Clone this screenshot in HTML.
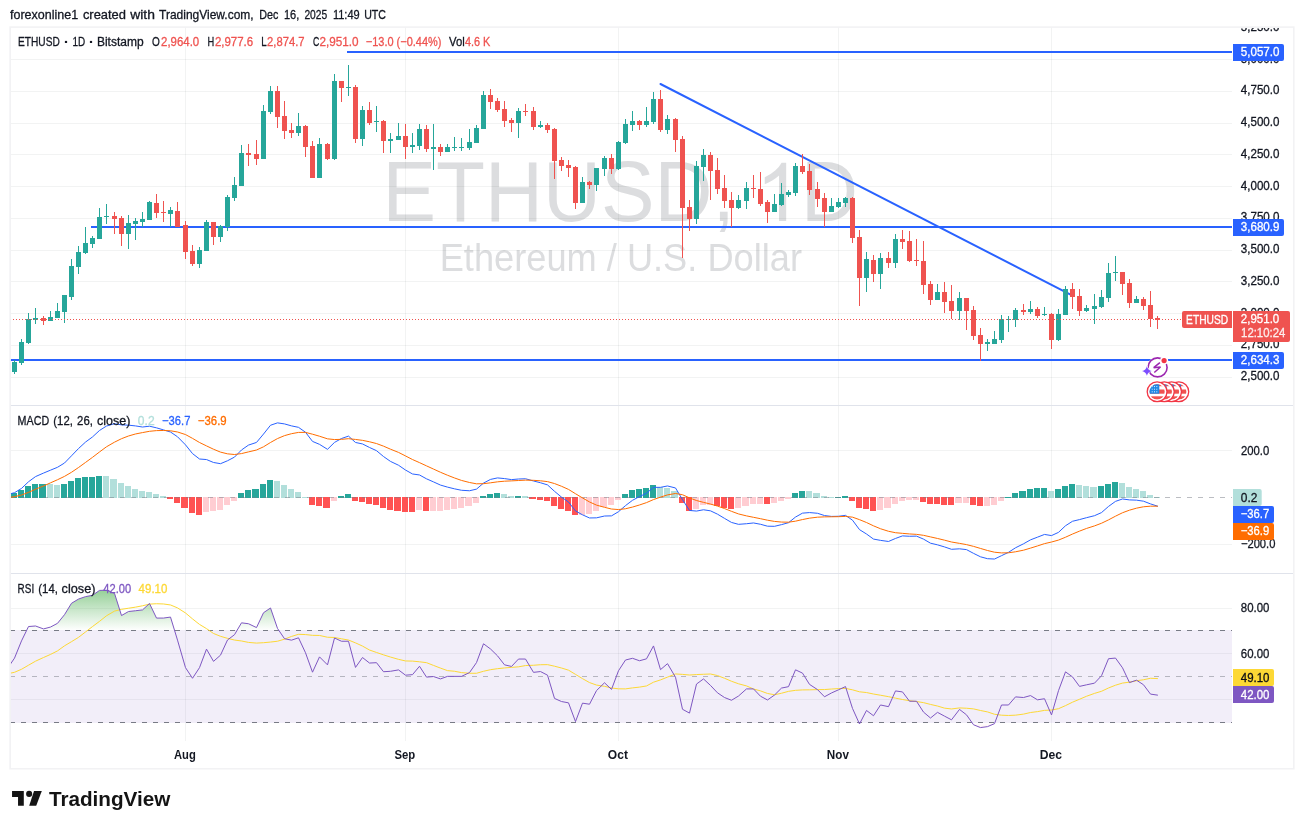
<!DOCTYPE html>
<html><head><meta charset="utf-8"><title>ETHUSD chart</title><style>html,body{margin:0;padding:0;background:#fff}body{width:1304px;height:829px;overflow:hidden}</style></head><body>
<svg width="1304" height="829" viewBox="0 0 1304 829" font-family='"Liberation Sans", sans-serif' style="display:block;will-change:transform">
<defs>
<linearGradient id="gob" gradientUnits="userSpaceOnUse" x1="0" y1="561.5" x2="0" y2="630.5"><stop offset="0" stop-color="#4caf50" stop-opacity="1"/><stop offset="1" stop-color="#4caf50" stop-opacity="0"/></linearGradient>
<linearGradient id="gos" gradientUnits="userSpaceOnUse" x1="0" y1="722.5" x2="0" y2="791.5"><stop offset="0" stop-color="#ff5252" stop-opacity="0"/><stop offset="1" stop-color="#ff5252" stop-opacity="1"/></linearGradient>
<clipPath id="cOB"><rect x="10" y="573" width="1222" height="57"/></clipPath>
<clipPath id="cOS"><rect x="10" y="723" width="1222" height="17"/></clipPath>
<clipPath id="cMain"><rect x="10" y="27" width="1222" height="378"/></clipPath>
<clipPath id="cAx1"><rect x="1232" y="28" width="62" height="377"/></clipPath>
</defs>
<rect width="1304" height="829" fill="#fff"/>
<text x="10.0" y="19" font-size="12.7" fill="#131722" textLength="68.2" lengthAdjust="spacingAndGlyphs" stroke="#131722" stroke-width="0.3">forexonline1</text>
<text x="82.9" y="19" font-size="12.7" fill="#131722" textLength="43.1" lengthAdjust="spacingAndGlyphs" stroke="#131722" stroke-width="0.3">created</text>
<text x="130.2" y="19" font-size="12.7" fill="#131722" textLength="24.7" lengthAdjust="spacingAndGlyphs" stroke="#131722" stroke-width="0.3">with</text>
<text x="159.1" y="19" font-size="12.7" fill="#131722" textLength="94.5" lengthAdjust="spacingAndGlyphs" stroke="#131722" stroke-width="0.3">TradingView.com,</text>
<text x="259.2" y="19" font-size="12.7" fill="#131722" textLength="19.1" lengthAdjust="spacingAndGlyphs" stroke="#131722" stroke-width="0.3">Dec</text>
<text x="283.9" y="19" font-size="12.7" fill="#131722" textLength="15.3" lengthAdjust="spacingAndGlyphs" stroke="#131722" stroke-width="0.3">16,</text>
<text x="304.4" y="19" font-size="12.7" fill="#131722" textLength="22.8" lengthAdjust="spacingAndGlyphs" stroke="#131722" stroke-width="0.3">2025</text>
<text x="332.9" y="19" font-size="12.7" fill="#131722" textLength="26.8" lengthAdjust="spacingAndGlyphs" stroke="#131722" stroke-width="0.3">11:49</text>
<text x="364.2" y="19" font-size="12.7" fill="#131722" textLength="21.8" lengthAdjust="spacingAndGlyphs" stroke="#131722" stroke-width="0.3">UTC</text>
<text x="382.5" y="221.25" font-size="84.6" fill="#dcdddf" textLength="352.25" lengthAdjust="spacingAndGlyphs">ETHUSD,</text>
<text x="801.0" y="221.25" font-size="84.6" fill="#dcdddf" textLength="56.96" lengthAdjust="spacingAndGlyphs">D</text>
<path transform="translate(755.9,221.1) scale(0.0397,-0.0397)" d="M763,0 L583,0 L583,1147 Q518,1085 412.5,1023 Q307,961 223,930 L223,1104 Q374,1175 487,1276 Q600,1377 647,1472 L763,1472 Z" fill="#dcdddf"/>
<text x="439.7" y="271" font-size="37.9" fill="#dcdddf" textLength="362.3" lengthAdjust="spacingAndGlyphs">Ethereum / U.S. Dollar</text>
<g shape-rendering="crispEdges">
<rect x="185" y="27" width="1" height="714" fill="#2a2e39" fill-opacity="0.06"/>
<rect x="405" y="27" width="1" height="714" fill="#2a2e39" fill-opacity="0.06"/>
<rect x="618" y="27" width="1" height="714" fill="#2a2e39" fill-opacity="0.06"/>
<rect x="838" y="27" width="1" height="714" fill="#2a2e39" fill-opacity="0.06"/>
<rect x="1051" y="27" width="1" height="714" fill="#2a2e39" fill-opacity="0.06"/>
<rect x="10" y="377" width="1222" height="1" fill="#2a2e39" fill-opacity="0.06"/>
<rect x="10" y="345" width="1222" height="1" fill="#2a2e39" fill-opacity="0.06"/>
<rect x="10" y="313" width="1222" height="1" fill="#2a2e39" fill-opacity="0.06"/>
<rect x="10" y="281" width="1222" height="1" fill="#2a2e39" fill-opacity="0.06"/>
<rect x="10" y="250" width="1222" height="1" fill="#2a2e39" fill-opacity="0.06"/>
<rect x="10" y="218" width="1222" height="1" fill="#2a2e39" fill-opacity="0.06"/>
<rect x="10" y="186" width="1222" height="1" fill="#2a2e39" fill-opacity="0.06"/>
<rect x="10" y="154" width="1222" height="1" fill="#2a2e39" fill-opacity="0.06"/>
<rect x="10" y="123" width="1222" height="1" fill="#2a2e39" fill-opacity="0.06"/>
<rect x="10" y="91" width="1222" height="1" fill="#2a2e39" fill-opacity="0.06"/>
<rect x="10" y="59" width="1222" height="1" fill="#2a2e39" fill-opacity="0.06"/>
<rect x="10" y="450" width="1222" height="1" fill="#2a2e39" fill-opacity="0.06"/>
<rect x="10" y="544" width="1222" height="1" fill="#2a2e39" fill-opacity="0.06"/>
<rect x="10" y="608" width="1222" height="1" fill="#2a2e39" fill-opacity="0.06"/>
<rect x="10" y="653" width="1222" height="1" fill="#2a2e39" fill-opacity="0.06"/>
<rect x="10" y="699" width="1222" height="1" fill="#2a2e39" fill-opacity="0.06"/>
</g>
<rect x="10" y="630" width="1222" height="93" fill="#7e57c2" fill-opacity="0.1"/>
<g clip-path="url(#cMain)">
<rect x="347" y="51" width="885" height="2" fill="#2962ff"/>
<rect x="91" y="226" width="1141" height="2" fill="#2962ff"/>
<rect x="10" y="359" width="1222" height="2" fill="#2962ff"/>
<line x1="660.5" y1="84" x2="1072.5" y2="295.6" stroke="#2962ff" stroke-width="2" stroke-linecap="round"/>
</g>
<g shape-rendering="crispEdges">
<rect x="14" y="360" width="1" height="14" fill="#26a69a"/>
<rect x="12" y="362" width="5" height="10" fill="#26a69a"/>
<rect x="21" y="339" width="1" height="26" fill="#26a69a"/>
<rect x="19" y="342" width="5" height="21" fill="#26a69a"/>
<rect x="28" y="313" width="1" height="31" fill="#26a69a"/>
<rect x="26" y="319" width="5" height="24" fill="#26a69a"/>
<rect x="35" y="308" width="1" height="16" fill="#26a69a"/>
<rect x="33" y="318" width="5" height="2" fill="#26a69a"/>
<rect x="43" y="316" width="1" height="9" fill="#ef5350"/>
<rect x="41" y="318" width="5" height="3" fill="#ef5350"/>
<rect x="50" y="311" width="1" height="10" fill="#26a69a"/>
<rect x="48" y="317" width="5" height="4" fill="#26a69a"/>
<rect x="57" y="303" width="1" height="15" fill="#26a69a"/>
<rect x="55" y="311" width="5" height="7" fill="#26a69a"/>
<rect x="64" y="295" width="1" height="28" fill="#26a69a"/>
<rect x="62" y="295" width="5" height="17" fill="#26a69a"/>
<rect x="71" y="259" width="1" height="41" fill="#26a69a"/>
<rect x="69" y="266" width="5" height="31" fill="#26a69a"/>
<rect x="78" y="246" width="1" height="28" fill="#26a69a"/>
<rect x="76" y="252" width="5" height="15" fill="#26a69a"/>
<rect x="85" y="227" width="1" height="27" fill="#26a69a"/>
<rect x="83" y="243" width="5" height="10" fill="#26a69a"/>
<rect x="92" y="236" width="1" height="12" fill="#26a69a"/>
<rect x="90" y="238" width="5" height="6" fill="#26a69a"/>
<rect x="99" y="208" width="1" height="31" fill="#26a69a"/>
<rect x="97" y="217" width="5" height="22" fill="#26a69a"/>
<rect x="106" y="204" width="1" height="20" fill="#26a69a"/>
<rect x="104" y="216" width="5" height="1" fill="#26a69a"/>
<rect x="114" y="212" width="1" height="22" fill="#ef5350"/>
<rect x="112" y="216" width="5" height="3" fill="#ef5350"/>
<rect x="121" y="216" width="1" height="30" fill="#ef5350"/>
<rect x="119" y="218" width="5" height="16" fill="#ef5350"/>
<rect x="128" y="215" width="1" height="34" fill="#26a69a"/>
<rect x="126" y="223" width="5" height="11" fill="#26a69a"/>
<rect x="135" y="218" width="1" height="22" fill="#26a69a"/>
<rect x="133" y="221" width="5" height="3" fill="#26a69a"/>
<rect x="142" y="212" width="1" height="15" fill="#26a69a"/>
<rect x="140" y="219" width="5" height="3" fill="#26a69a"/>
<rect x="149" y="201" width="1" height="19" fill="#26a69a"/>
<rect x="147" y="202" width="5" height="18" fill="#26a69a"/>
<rect x="156" y="194" width="1" height="24" fill="#ef5350"/>
<rect x="154" y="203" width="5" height="10" fill="#ef5350"/>
<rect x="163" y="201" width="1" height="21" fill="#ef5350"/>
<rect x="161" y="212" width="5" height="1" fill="#ef5350"/>
<rect x="170" y="207" width="1" height="20" fill="#26a69a"/>
<rect x="168" y="210" width="5" height="4" fill="#26a69a"/>
<rect x="177" y="202" width="1" height="25" fill="#ef5350"/>
<rect x="175" y="211" width="5" height="16" fill="#ef5350"/>
<rect x="185" y="221" width="1" height="38" fill="#ef5350"/>
<rect x="183" y="225" width="5" height="27" fill="#ef5350"/>
<rect x="192" y="245" width="1" height="21" fill="#ef5350"/>
<rect x="190" y="251" width="5" height="13" fill="#ef5350"/>
<rect x="199" y="247" width="1" height="21" fill="#26a69a"/>
<rect x="197" y="250" width="5" height="14" fill="#26a69a"/>
<rect x="206" y="220" width="1" height="31" fill="#26a69a"/>
<rect x="204" y="222" width="5" height="29" fill="#26a69a"/>
<rect x="213" y="222" width="1" height="23" fill="#ef5350"/>
<rect x="211" y="222" width="5" height="15" fill="#ef5350"/>
<rect x="220" y="225" width="1" height="17" fill="#26a69a"/>
<rect x="218" y="226" width="5" height="11" fill="#26a69a"/>
<rect x="227" y="195" width="1" height="36" fill="#26a69a"/>
<rect x="225" y="197" width="5" height="30" fill="#26a69a"/>
<rect x="234" y="177" width="1" height="24" fill="#26a69a"/>
<rect x="232" y="185" width="5" height="13" fill="#26a69a"/>
<rect x="241" y="145" width="1" height="41" fill="#26a69a"/>
<rect x="239" y="153" width="5" height="33" fill="#26a69a"/>
<rect x="248" y="144" width="1" height="22" fill="#ef5350"/>
<rect x="246" y="153" width="5" height="2" fill="#ef5350"/>
<rect x="256" y="140" width="1" height="25" fill="#ef5350"/>
<rect x="254" y="154" width="5" height="5" fill="#ef5350"/>
<rect x="263" y="105" width="1" height="54" fill="#26a69a"/>
<rect x="261" y="111" width="5" height="48" fill="#26a69a"/>
<rect x="270" y="86" width="1" height="28" fill="#26a69a"/>
<rect x="268" y="91" width="5" height="21" fill="#26a69a"/>
<rect x="277" y="86" width="1" height="42" fill="#ef5350"/>
<rect x="275" y="91" width="5" height="26" fill="#ef5350"/>
<rect x="284" y="101" width="1" height="38" fill="#ef5350"/>
<rect x="282" y="116" width="5" height="15" fill="#ef5350"/>
<rect x="291" y="123" width="1" height="15" fill="#ef5350"/>
<rect x="289" y="130" width="5" height="3" fill="#ef5350"/>
<rect x="298" y="113" width="1" height="23" fill="#26a69a"/>
<rect x="296" y="126" width="5" height="7" fill="#26a69a"/>
<rect x="305" y="125" width="1" height="32" fill="#ef5350"/>
<rect x="303" y="126" width="5" height="21" fill="#ef5350"/>
<rect x="312" y="141" width="1" height="37" fill="#ef5350"/>
<rect x="310" y="146" width="5" height="32" fill="#ef5350"/>
<rect x="319" y="138" width="1" height="40" fill="#26a69a"/>
<rect x="317" y="144" width="5" height="34" fill="#26a69a"/>
<rect x="327" y="143" width="1" height="17" fill="#ef5350"/>
<rect x="325" y="144" width="5" height="15" fill="#ef5350"/>
<rect x="334" y="74" width="1" height="86" fill="#26a69a"/>
<rect x="332" y="81" width="5" height="78" fill="#26a69a"/>
<rect x="341" y="81" width="1" height="21" fill="#ef5350"/>
<rect x="339" y="81" width="5" height="7" fill="#ef5350"/>
<rect x="348" y="65" width="1" height="31" fill="#26a69a"/>
<rect x="346" y="87" width="5" height="1" fill="#26a69a"/>
<rect x="355" y="85" width="1" height="58" fill="#ef5350"/>
<rect x="353" y="87" width="5" height="52" fill="#ef5350"/>
<rect x="362" y="106" width="1" height="40" fill="#26a69a"/>
<rect x="360" y="110" width="5" height="29" fill="#26a69a"/>
<rect x="369" y="102" width="1" height="23" fill="#ef5350"/>
<rect x="367" y="110" width="5" height="13" fill="#ef5350"/>
<rect x="376" y="106" width="1" height="26" fill="#26a69a"/>
<rect x="374" y="121" width="5" height="1" fill="#26a69a"/>
<rect x="383" y="120" width="1" height="33" fill="#ef5350"/>
<rect x="381" y="121" width="5" height="20" fill="#ef5350"/>
<rect x="390" y="133" width="1" height="20" fill="#26a69a"/>
<rect x="388" y="139" width="5" height="2" fill="#26a69a"/>
<rect x="398" y="123" width="1" height="17" fill="#26a69a"/>
<rect x="396" y="136" width="5" height="4" fill="#26a69a"/>
<rect x="405" y="124" width="1" height="35" fill="#ef5350"/>
<rect x="403" y="136" width="5" height="11" fill="#ef5350"/>
<rect x="412" y="133" width="1" height="20" fill="#26a69a"/>
<rect x="410" y="145" width="5" height="2" fill="#26a69a"/>
<rect x="419" y="124" width="1" height="26" fill="#26a69a"/>
<rect x="417" y="129" width="5" height="17" fill="#26a69a"/>
<rect x="426" y="125" width="1" height="27" fill="#ef5350"/>
<rect x="424" y="129" width="5" height="20" fill="#ef5350"/>
<rect x="433" y="124" width="1" height="46" fill="#26a69a"/>
<rect x="431" y="147" width="5" height="2" fill="#26a69a"/>
<rect x="440" y="144" width="1" height="12" fill="#ef5350"/>
<rect x="438" y="147" width="5" height="5" fill="#ef5350"/>
<rect x="447" y="144" width="1" height="8" fill="#26a69a"/>
<rect x="445" y="147" width="5" height="5" fill="#26a69a"/>
<rect x="454" y="137" width="1" height="14" fill="#26a69a"/>
<rect x="452" y="147" width="5" height="1" fill="#26a69a"/>
<rect x="461" y="138" width="1" height="13" fill="#26a69a"/>
<rect x="459" y="147" width="5" height="1" fill="#26a69a"/>
<rect x="469" y="129" width="1" height="21" fill="#26a69a"/>
<rect x="467" y="142" width="5" height="6" fill="#26a69a"/>
<rect x="476" y="125" width="1" height="18" fill="#26a69a"/>
<rect x="474" y="128" width="5" height="15" fill="#26a69a"/>
<rect x="483" y="91" width="1" height="38" fill="#26a69a"/>
<rect x="481" y="95" width="5" height="34" fill="#26a69a"/>
<rect x="490" y="89" width="1" height="20" fill="#ef5350"/>
<rect x="488" y="95" width="5" height="7" fill="#ef5350"/>
<rect x="497" y="98" width="1" height="14" fill="#ef5350"/>
<rect x="495" y="101" width="5" height="9" fill="#ef5350"/>
<rect x="504" y="101" width="1" height="26" fill="#ef5350"/>
<rect x="502" y="109" width="5" height="12" fill="#ef5350"/>
<rect x="511" y="118" width="1" height="14" fill="#ef5350"/>
<rect x="509" y="120" width="5" height="3" fill="#ef5350"/>
<rect x="518" y="108" width="1" height="30" fill="#26a69a"/>
<rect x="516" y="111" width="5" height="12" fill="#26a69a"/>
<rect x="525" y="104" width="1" height="12" fill="#ef5350"/>
<rect x="523" y="111" width="5" height="1" fill="#ef5350"/>
<rect x="533" y="107" width="1" height="23" fill="#ef5350"/>
<rect x="531" y="111" width="5" height="16" fill="#ef5350"/>
<rect x="540" y="121" width="1" height="7" fill="#26a69a"/>
<rect x="538" y="125" width="5" height="2" fill="#26a69a"/>
<rect x="547" y="123" width="1" height="10" fill="#ef5350"/>
<rect x="545" y="125" width="5" height="5" fill="#ef5350"/>
<rect x="554" y="128" width="1" height="51" fill="#ef5350"/>
<rect x="552" y="129" width="5" height="32" fill="#ef5350"/>
<rect x="561" y="157" width="1" height="14" fill="#ef5350"/>
<rect x="559" y="160" width="5" height="6" fill="#ef5350"/>
<rect x="568" y="160" width="1" height="17" fill="#ef5350"/>
<rect x="566" y="165" width="5" height="3" fill="#ef5350"/>
<rect x="575" y="166" width="1" height="43" fill="#ef5350"/>
<rect x="573" y="167" width="5" height="36" fill="#ef5350"/>
<rect x="582" y="177" width="1" height="26" fill="#26a69a"/>
<rect x="580" y="182" width="5" height="21" fill="#26a69a"/>
<rect x="589" y="181" width="1" height="8" fill="#ef5350"/>
<rect x="587" y="182" width="5" height="3" fill="#ef5350"/>
<rect x="596" y="168" width="1" height="23" fill="#26a69a"/>
<rect x="594" y="168" width="5" height="17" fill="#26a69a"/>
<rect x="604" y="156" width="1" height="20" fill="#26a69a"/>
<rect x="602" y="158" width="5" height="11" fill="#26a69a"/>
<rect x="611" y="154" width="1" height="20" fill="#ef5350"/>
<rect x="609" y="158" width="5" height="11" fill="#ef5350"/>
<rect x="618" y="141" width="1" height="29" fill="#26a69a"/>
<rect x="616" y="142" width="5" height="27" fill="#26a69a"/>
<rect x="625" y="119" width="1" height="25" fill="#26a69a"/>
<rect x="623" y="124" width="5" height="19" fill="#26a69a"/>
<rect x="632" y="111" width="1" height="20" fill="#26a69a"/>
<rect x="630" y="121" width="5" height="4" fill="#26a69a"/>
<rect x="639" y="120" width="1" height="10" fill="#ef5350"/>
<rect x="637" y="121" width="5" height="4" fill="#ef5350"/>
<rect x="646" y="107" width="1" height="20" fill="#26a69a"/>
<rect x="644" y="121" width="5" height="4" fill="#26a69a"/>
<rect x="653" y="92" width="1" height="32" fill="#26a69a"/>
<rect x="651" y="99" width="5" height="23" fill="#26a69a"/>
<rect x="660" y="90" width="1" height="42" fill="#ef5350"/>
<rect x="658" y="99" width="5" height="31" fill="#ef5350"/>
<rect x="667" y="115" width="1" height="19" fill="#26a69a"/>
<rect x="665" y="119" width="5" height="11" fill="#26a69a"/>
<rect x="675" y="118" width="1" height="34" fill="#ef5350"/>
<rect x="673" y="119" width="5" height="21" fill="#ef5350"/>
<rect x="682" y="136" width="1" height="122" fill="#ef5350"/>
<rect x="680" y="139" width="5" height="69" fill="#ef5350"/>
<rect x="689" y="200" width="1" height="31" fill="#ef5350"/>
<rect x="687" y="207" width="5" height="12" fill="#ef5350"/>
<rect x="696" y="161" width="1" height="63" fill="#26a69a"/>
<rect x="694" y="166" width="5" height="53" fill="#26a69a"/>
<rect x="703" y="149" width="1" height="32" fill="#26a69a"/>
<rect x="701" y="155" width="5" height="12" fill="#26a69a"/>
<rect x="710" y="152" width="1" height="48" fill="#ef5350"/>
<rect x="708" y="155" width="5" height="16" fill="#ef5350"/>
<rect x="717" y="158" width="1" height="36" fill="#ef5350"/>
<rect x="715" y="170" width="5" height="19" fill="#ef5350"/>
<rect x="724" y="175" width="1" height="33" fill="#ef5350"/>
<rect x="722" y="188" width="5" height="13" fill="#ef5350"/>
<rect x="731" y="192" width="1" height="35" fill="#ef5350"/>
<rect x="729" y="200" width="5" height="8" fill="#ef5350"/>
<rect x="738" y="195" width="1" height="14" fill="#26a69a"/>
<rect x="736" y="200" width="5" height="8" fill="#26a69a"/>
<rect x="746" y="182" width="1" height="27" fill="#26a69a"/>
<rect x="744" y="188" width="5" height="13" fill="#26a69a"/>
<rect x="753" y="175" width="1" height="23" fill="#ef5350"/>
<rect x="751" y="188" width="5" height="1" fill="#ef5350"/>
<rect x="760" y="172" width="1" height="34" fill="#ef5350"/>
<rect x="758" y="189" width="5" height="15" fill="#ef5350"/>
<rect x="767" y="200" width="1" height="23" fill="#ef5350"/>
<rect x="765" y="202" width="5" height="10" fill="#ef5350"/>
<rect x="774" y="194" width="1" height="18" fill="#26a69a"/>
<rect x="772" y="204" width="5" height="8" fill="#26a69a"/>
<rect x="781" y="183" width="1" height="23" fill="#26a69a"/>
<rect x="779" y="194" width="5" height="11" fill="#26a69a"/>
<rect x="788" y="190" width="1" height="7" fill="#26a69a"/>
<rect x="786" y="192" width="5" height="3" fill="#26a69a"/>
<rect x="795" y="163" width="1" height="33" fill="#26a69a"/>
<rect x="793" y="166" width="5" height="27" fill="#26a69a"/>
<rect x="802" y="154" width="1" height="20" fill="#ef5350"/>
<rect x="800" y="166" width="5" height="6" fill="#ef5350"/>
<rect x="809" y="164" width="1" height="31" fill="#ef5350"/>
<rect x="807" y="171" width="5" height="19" fill="#ef5350"/>
<rect x="817" y="182" width="1" height="25" fill="#ef5350"/>
<rect x="815" y="189" width="5" height="10" fill="#ef5350"/>
<rect x="824" y="193" width="1" height="34" fill="#ef5350"/>
<rect x="822" y="198" width="5" height="14" fill="#ef5350"/>
<rect x="831" y="198" width="1" height="14" fill="#26a69a"/>
<rect x="829" y="206" width="5" height="6" fill="#26a69a"/>
<rect x="838" y="198" width="1" height="10" fill="#26a69a"/>
<rect x="836" y="202" width="5" height="5" fill="#26a69a"/>
<rect x="845" y="197" width="1" height="10" fill="#26a69a"/>
<rect x="843" y="198" width="5" height="5" fill="#26a69a"/>
<rect x="852" y="197" width="1" height="46" fill="#ef5350"/>
<rect x="850" y="198" width="5" height="40" fill="#ef5350"/>
<rect x="859" y="230" width="1" height="76" fill="#ef5350"/>
<rect x="857" y="237" width="5" height="41" fill="#ef5350"/>
<rect x="866" y="252" width="1" height="40" fill="#26a69a"/>
<rect x="864" y="259" width="5" height="19" fill="#26a69a"/>
<rect x="873" y="255" width="1" height="27" fill="#ef5350"/>
<rect x="871" y="260" width="5" height="14" fill="#ef5350"/>
<rect x="880" y="253" width="1" height="36" fill="#26a69a"/>
<rect x="878" y="258" width="5" height="16" fill="#26a69a"/>
<rect x="888" y="252" width="1" height="16" fill="#ef5350"/>
<rect x="886" y="258" width="5" height="5" fill="#ef5350"/>
<rect x="895" y="234" width="1" height="34" fill="#26a69a"/>
<rect x="893" y="239" width="5" height="24" fill="#26a69a"/>
<rect x="902" y="230" width="1" height="19" fill="#ef5350"/>
<rect x="900" y="239" width="5" height="3" fill="#ef5350"/>
<rect x="909" y="231" width="1" height="31" fill="#ef5350"/>
<rect x="907" y="241" width="5" height="20" fill="#ef5350"/>
<rect x="916" y="239" width="1" height="27" fill="#ef5350"/>
<rect x="914" y="260" width="5" height="1" fill="#ef5350"/>
<rect x="923" y="241" width="1" height="53" fill="#ef5350"/>
<rect x="921" y="261" width="5" height="24" fill="#ef5350"/>
<rect x="930" y="281" width="1" height="24" fill="#ef5350"/>
<rect x="928" y="284" width="5" height="16" fill="#ef5350"/>
<rect x="937" y="284" width="1" height="16" fill="#26a69a"/>
<rect x="935" y="292" width="5" height="8" fill="#26a69a"/>
<rect x="944" y="282" width="1" height="31" fill="#ef5350"/>
<rect x="942" y="292" width="5" height="10" fill="#ef5350"/>
<rect x="951" y="285" width="1" height="34" fill="#ef5350"/>
<rect x="949" y="301" width="5" height="10" fill="#ef5350"/>
<rect x="959" y="292" width="1" height="28" fill="#26a69a"/>
<rect x="957" y="298" width="5" height="13" fill="#26a69a"/>
<rect x="966" y="298" width="1" height="32" fill="#ef5350"/>
<rect x="964" y="298" width="5" height="13" fill="#ef5350"/>
<rect x="973" y="306" width="1" height="34" fill="#ef5350"/>
<rect x="971" y="310" width="5" height="26" fill="#ef5350"/>
<rect x="980" y="328" width="1" height="33" fill="#ef5350"/>
<rect x="978" y="335" width="5" height="9" fill="#ef5350"/>
<rect x="987" y="339" width="1" height="12" fill="#26a69a"/>
<rect x="985" y="342" width="5" height="2" fill="#26a69a"/>
<rect x="994" y="331" width="1" height="13" fill="#26a69a"/>
<rect x="992" y="339" width="5" height="5" fill="#26a69a"/>
<rect x="1001" y="315" width="1" height="28" fill="#26a69a"/>
<rect x="999" y="319" width="5" height="21" fill="#26a69a"/>
<rect x="1008" y="316" width="1" height="16" fill="#26a69a"/>
<rect x="1006" y="319" width="5" height="1" fill="#26a69a"/>
<rect x="1015" y="308" width="1" height="19" fill="#26a69a"/>
<rect x="1013" y="310" width="5" height="10" fill="#26a69a"/>
<rect x="1023" y="304" width="1" height="11" fill="#ef5350"/>
<rect x="1021" y="310" width="5" height="2" fill="#ef5350"/>
<rect x="1030" y="301" width="1" height="13" fill="#26a69a"/>
<rect x="1028" y="309" width="5" height="3" fill="#26a69a"/>
<rect x="1037" y="307" width="1" height="11" fill="#ef5350"/>
<rect x="1035" y="309" width="5" height="7" fill="#ef5350"/>
<rect x="1044" y="307" width="1" height="9" fill="#26a69a"/>
<rect x="1042" y="314" width="5" height="1" fill="#26a69a"/>
<rect x="1051" y="313" width="1" height="36" fill="#ef5350"/>
<rect x="1049" y="314" width="5" height="26" fill="#ef5350"/>
<rect x="1058" y="309" width="1" height="32" fill="#26a69a"/>
<rect x="1056" y="314" width="5" height="26" fill="#26a69a"/>
<rect x="1065" y="286" width="1" height="29" fill="#26a69a"/>
<rect x="1063" y="289" width="5" height="26" fill="#26a69a"/>
<rect x="1072" y="283" width="1" height="26" fill="#ef5350"/>
<rect x="1070" y="289" width="5" height="8" fill="#ef5350"/>
<rect x="1079" y="289" width="1" height="27" fill="#ef5350"/>
<rect x="1077" y="296" width="5" height="15" fill="#ef5350"/>
<rect x="1086" y="305" width="1" height="7" fill="#26a69a"/>
<rect x="1084" y="308" width="5" height="3" fill="#26a69a"/>
<rect x="1094" y="294" width="1" height="30" fill="#26a69a"/>
<rect x="1092" y="306" width="5" height="3" fill="#26a69a"/>
<rect x="1101" y="290" width="1" height="18" fill="#26a69a"/>
<rect x="1099" y="297" width="5" height="10" fill="#26a69a"/>
<rect x="1108" y="263" width="1" height="39" fill="#26a69a"/>
<rect x="1106" y="273" width="5" height="25" fill="#26a69a"/>
<rect x="1115" y="256" width="1" height="25" fill="#26a69a"/>
<rect x="1113" y="272" width="5" height="1" fill="#26a69a"/>
<rect x="1122" y="272" width="1" height="23" fill="#ef5350"/>
<rect x="1120" y="272" width="5" height="12" fill="#ef5350"/>
<rect x="1129" y="279" width="1" height="29" fill="#ef5350"/>
<rect x="1127" y="283" width="5" height="20" fill="#ef5350"/>
<rect x="1136" y="296" width="1" height="7" fill="#26a69a"/>
<rect x="1134" y="299" width="5" height="4" fill="#26a69a"/>
<rect x="1143" y="297" width="1" height="13" fill="#ef5350"/>
<rect x="1141" y="299" width="5" height="7" fill="#ef5350"/>
<rect x="1150" y="291" width="1" height="36" fill="#ef5350"/>
<rect x="1148" y="305" width="5" height="14" fill="#ef5350"/>
<rect x="1157" y="316" width="1" height="13" fill="#ef5350"/>
<rect x="1155" y="318" width="5" height="2" fill="#ef5350"/>
</g>
<line x1="10" y1="319.5" x2="1232" y2="319.5" stroke="#ef5350" stroke-width="1" stroke-dasharray="1 2" shape-rendering="crispEdges"/>
<g shape-rendering="crispEdges">
<rect x="11" y="493" width="6" height="5" fill="#26a69a"/>
<rect x="18" y="490" width="6" height="8" fill="#26a69a"/>
<rect x="25" y="486" width="6" height="12" fill="#26a69a"/>
<rect x="32" y="484" width="6" height="14" fill="#26a69a"/>
<rect x="39" y="484" width="7" height="14" fill="#26a69a"/>
<rect x="47" y="484" width="6" height="14" fill="#b2dfdb"/>
<rect x="54" y="485" width="6" height="13" fill="#b2dfdb"/>
<rect x="61" y="484" width="6" height="14" fill="#26a69a"/>
<rect x="68" y="481" width="6" height="17" fill="#26a69a"/>
<rect x="75" y="478" width="6" height="20" fill="#26a69a"/>
<rect x="82" y="477" width="6" height="21" fill="#26a69a"/>
<rect x="89" y="477" width="6" height="21" fill="#26a69a"/>
<rect x="96" y="476" width="6" height="22" fill="#26a69a"/>
<rect x="103" y="476" width="6" height="22" fill="#b2dfdb"/>
<rect x="110" y="479" width="7" height="19" fill="#b2dfdb"/>
<rect x="118" y="483" width="6" height="15" fill="#b2dfdb"/>
<rect x="125" y="486" width="6" height="12" fill="#b2dfdb"/>
<rect x="132" y="489" width="6" height="9" fill="#b2dfdb"/>
<rect x="139" y="491" width="6" height="7" fill="#b2dfdb"/>
<rect x="146" y="492" width="6" height="6" fill="#b2dfdb"/>
<rect x="153" y="494" width="6" height="4" fill="#b2dfdb"/>
<rect x="160" y="496" width="6" height="2" fill="#b2dfdb"/>
<rect x="167" y="497" width="6" height="2" fill="#ff5252"/>
<rect x="174" y="497" width="6" height="6" fill="#ff5252"/>
<rect x="181" y="497" width="7" height="11" fill="#ff5252"/>
<rect x="189" y="497" width="6" height="16" fill="#ff5252"/>
<rect x="196" y="497" width="6" height="18" fill="#ff5252"/>
<rect x="203" y="497" width="6" height="15" fill="#ffcdd2"/>
<rect x="210" y="497" width="6" height="14" fill="#ffcdd2"/>
<rect x="217" y="497" width="6" height="13" fill="#ffcdd2"/>
<rect x="224" y="497" width="6" height="8" fill="#ffcdd2"/>
<rect x="231" y="497" width="6" height="4" fill="#ffcdd2"/>
<rect x="238" y="493" width="6" height="5" fill="#26a69a"/>
<rect x="245" y="490" width="6" height="8" fill="#26a69a"/>
<rect x="252" y="489" width="7" height="9" fill="#26a69a"/>
<rect x="260" y="484" width="6" height="14" fill="#26a69a"/>
<rect x="267" y="480" width="6" height="18" fill="#26a69a"/>
<rect x="274" y="481" width="6" height="17" fill="#b2dfdb"/>
<rect x="281" y="485" width="6" height="13" fill="#b2dfdb"/>
<rect x="288" y="489" width="6" height="9" fill="#b2dfdb"/>
<rect x="295" y="492" width="6" height="6" fill="#b2dfdb"/>
<rect x="302" y="497" width="6" height="1" fill="#b2dfdb"/>
<rect x="309" y="497" width="6" height="8" fill="#ff5252"/>
<rect x="316" y="497" width="6" height="9" fill="#ff5252"/>
<rect x="323" y="497" width="7" height="11" fill="#ff5252"/>
<rect x="331" y="497" width="6" height="4" fill="#ffcdd2"/>
<rect x="338" y="496" width="6" height="2" fill="#26a69a"/>
<rect x="345" y="494" width="6" height="4" fill="#26a69a"/>
<rect x="352" y="497" width="6" height="4" fill="#ff5252"/>
<rect x="359" y="497" width="6" height="5" fill="#ff5252"/>
<rect x="366" y="497" width="6" height="7" fill="#ff5252"/>
<rect x="373" y="497" width="6" height="8" fill="#ff5252"/>
<rect x="380" y="497" width="6" height="11" fill="#ff5252"/>
<rect x="387" y="497" width="6" height="13" fill="#ff5252"/>
<rect x="394" y="497" width="7" height="14" fill="#ff5252"/>
<rect x="402" y="497" width="6" height="15" fill="#ff5252"/>
<rect x="409" y="497" width="6" height="15" fill="#ff5252"/>
<rect x="416" y="497" width="6" height="13" fill="#ffcdd2"/>
<rect x="423" y="497" width="6" height="14" fill="#ff5252"/>
<rect x="430" y="497" width="6" height="14" fill="#ffcdd2"/>
<rect x="437" y="497" width="6" height="14" fill="#ffcdd2"/>
<rect x="444" y="497" width="6" height="13" fill="#ffcdd2"/>
<rect x="451" y="497" width="6" height="12" fill="#ffcdd2"/>
<rect x="458" y="497" width="6" height="11" fill="#ffcdd2"/>
<rect x="465" y="497" width="7" height="9" fill="#ffcdd2"/>
<rect x="473" y="497" width="6" height="6" fill="#ffcdd2"/>
<rect x="480" y="496" width="6" height="2" fill="#26a69a"/>
<rect x="487" y="494" width="6" height="4" fill="#26a69a"/>
<rect x="494" y="493" width="6" height="5" fill="#26a69a"/>
<rect x="501" y="494" width="6" height="4" fill="#b2dfdb"/>
<rect x="508" y="496" width="6" height="2" fill="#b2dfdb"/>
<rect x="515" y="496" width="6" height="2" fill="#26a69a"/>
<rect x="522" y="496" width="6" height="2" fill="#b2dfdb"/>
<rect x="529" y="497" width="7" height="2" fill="#ff5252"/>
<rect x="537" y="497" width="6" height="3" fill="#ff5252"/>
<rect x="544" y="497" width="6" height="4" fill="#ff5252"/>
<rect x="551" y="497" width="6" height="9" fill="#ff5252"/>
<rect x="558" y="497" width="6" height="12" fill="#ff5252"/>
<rect x="565" y="497" width="6" height="14" fill="#ff5252"/>
<rect x="572" y="497" width="6" height="18" fill="#ff5252"/>
<rect x="579" y="497" width="6" height="18" fill="#ffcdd2"/>
<rect x="586" y="497" width="6" height="17" fill="#ffcdd2"/>
<rect x="593" y="497" width="6" height="14" fill="#ffcdd2"/>
<rect x="600" y="497" width="7" height="10" fill="#ffcdd2"/>
<rect x="608" y="497" width="6" height="8" fill="#ffcdd2"/>
<rect x="615" y="497" width="6" height="3" fill="#ffcdd2"/>
<rect x="622" y="494" width="6" height="4" fill="#26a69a"/>
<rect x="629" y="490" width="6" height="8" fill="#26a69a"/>
<rect x="636" y="489" width="6" height="9" fill="#26a69a"/>
<rect x="643" y="488" width="6" height="10" fill="#26a69a"/>
<rect x="650" y="485" width="6" height="13" fill="#26a69a"/>
<rect x="657" y="487" width="6" height="11" fill="#b2dfdb"/>
<rect x="664" y="488" width="6" height="10" fill="#b2dfdb"/>
<rect x="671" y="491" width="7" height="7" fill="#b2dfdb"/>
<rect x="679" y="497" width="6" height="6" fill="#ff5252"/>
<rect x="686" y="497" width="6" height="14" fill="#ff5252"/>
<rect x="693" y="497" width="6" height="12" fill="#ffcdd2"/>
<rect x="700" y="497" width="6" height="8" fill="#ffcdd2"/>
<rect x="707" y="497" width="6" height="8" fill="#ffcdd2"/>
<rect x="714" y="497" width="6" height="9" fill="#ff5252"/>
<rect x="721" y="497" width="6" height="11" fill="#ff5252"/>
<rect x="728" y="497" width="6" height="12" fill="#ff5252"/>
<rect x="735" y="497" width="6" height="11" fill="#ffcdd2"/>
<rect x="742" y="497" width="7" height="9" fill="#ffcdd2"/>
<rect x="750" y="497" width="6" height="7" fill="#ffcdd2"/>
<rect x="757" y="497" width="6" height="7" fill="#ffcdd2"/>
<rect x="764" y="497" width="6" height="7" fill="#ff5252"/>
<rect x="771" y="497" width="6" height="6" fill="#ffcdd2"/>
<rect x="778" y="497" width="6" height="4" fill="#ffcdd2"/>
<rect x="785" y="497" width="6" height="2" fill="#ffcdd2"/>
<rect x="792" y="493" width="6" height="5" fill="#26a69a"/>
<rect x="799" y="491" width="6" height="7" fill="#26a69a"/>
<rect x="806" y="491" width="6" height="7" fill="#b2dfdb"/>
<rect x="813" y="493" width="7" height="5" fill="#b2dfdb"/>
<rect x="821" y="496" width="6" height="2" fill="#b2dfdb"/>
<rect x="828" y="497" width="6" height="1" fill="#b2dfdb"/>
<rect x="835" y="497" width="6" height="1" fill="#26a69a"/>
<rect x="842" y="496" width="6" height="2" fill="#26a69a"/>
<rect x="849" y="497" width="6" height="4" fill="#ff5252"/>
<rect x="856" y="497" width="6" height="11" fill="#ff5252"/>
<rect x="863" y="497" width="6" height="12" fill="#ff5252"/>
<rect x="870" y="497" width="6" height="14" fill="#ff5252"/>
<rect x="877" y="497" width="6" height="13" fill="#ffcdd2"/>
<rect x="884" y="497" width="7" height="11" fill="#ffcdd2"/>
<rect x="892" y="497" width="6" height="7" fill="#ffcdd2"/>
<rect x="899" y="497" width="6" height="4" fill="#ffcdd2"/>
<rect x="906" y="497" width="6" height="3" fill="#ffcdd2"/>
<rect x="913" y="497" width="6" height="3" fill="#ffcdd2"/>
<rect x="920" y="497" width="6" height="5" fill="#ff5252"/>
<rect x="927" y="497" width="6" height="7" fill="#ff5252"/>
<rect x="934" y="497" width="6" height="7" fill="#ff5252"/>
<rect x="941" y="497" width="6" height="8" fill="#ff5252"/>
<rect x="948" y="497" width="6" height="8" fill="#ff5252"/>
<rect x="955" y="497" width="7" height="6" fill="#ffcdd2"/>
<rect x="963" y="497" width="6" height="6" fill="#ffcdd2"/>
<rect x="970" y="497" width="6" height="8" fill="#ff5252"/>
<rect x="977" y="497" width="6" height="9" fill="#ff5252"/>
<rect x="984" y="497" width="6" height="9" fill="#ffcdd2"/>
<rect x="991" y="497" width="6" height="8" fill="#ffcdd2"/>
<rect x="998" y="497" width="6" height="4" fill="#ffcdd2"/>
<rect x="1005" y="497" width="6" height="1" fill="#26a69a"/>
<rect x="1012" y="493" width="6" height="5" fill="#26a69a"/>
<rect x="1019" y="491" width="7" height="7" fill="#26a69a"/>
<rect x="1027" y="489" width="6" height="9" fill="#26a69a"/>
<rect x="1034" y="488" width="6" height="10" fill="#26a69a"/>
<rect x="1041" y="488" width="6" height="10" fill="#26a69a"/>
<rect x="1048" y="491" width="6" height="7" fill="#b2dfdb"/>
<rect x="1055" y="489" width="6" height="9" fill="#26a69a"/>
<rect x="1062" y="486" width="6" height="12" fill="#26a69a"/>
<rect x="1069" y="484" width="6" height="14" fill="#26a69a"/>
<rect x="1076" y="485" width="6" height="13" fill="#b2dfdb"/>
<rect x="1083" y="486" width="6" height="12" fill="#b2dfdb"/>
<rect x="1090" y="487" width="7" height="11" fill="#b2dfdb"/>
<rect x="1098" y="486" width="6" height="12" fill="#26a69a"/>
<rect x="1105" y="484" width="6" height="14" fill="#26a69a"/>
<rect x="1112" y="482" width="6" height="16" fill="#26a69a"/>
<rect x="1119" y="483" width="6" height="15" fill="#b2dfdb"/>
<rect x="1126" y="487" width="6" height="11" fill="#b2dfdb"/>
<rect x="1133" y="489" width="6" height="9" fill="#b2dfdb"/>
<rect x="1140" y="491" width="6" height="7" fill="#b2dfdb"/>
<rect x="1147" y="495" width="6" height="3" fill="#b2dfdb"/>
<rect x="1154" y="497" width="6" height="1" fill="#b2dfdb"/>
</g>
<line x1="10" y1="497.5" x2="1232" y2="497.5" stroke="#787b86" stroke-opacity="0.5" stroke-width="1" stroke-dasharray="5 6" shape-rendering="crispEdges"/>
<clipPath id="cPl"><rect x="10" y="27" width="1222" height="713"/></clipPath><g clip-path="url(#cPl)">
<polyline points="7.4,494.48 14.5,492.71 21.5,488.43 28.5,481.78 35.5,476.60 43.5,473.08 50.5,470.16 57.5,467.29 64.5,463.03 71.5,455.80 78.5,448.55 85.5,442.09 92.5,436.93 99.5,430.48 106.5,426.04 114.5,423.67 121.5,424.86 128.5,425.16 135.5,425.91 142.5,427.03 149.5,426.19 156.5,427.83 163.5,429.90 170.5,432.01 177.5,436.76 185.5,444.87 192.5,453.59 199.5,459.01 206.5,459.55 213.5,462.48 220.5,463.70 227.5,460.76 234.5,457.10 241.5,449.97 248.5,445.08 256.5,442.43 263.5,434.05 270.5,425.25 277.5,422.87 284.5,423.92 291.5,425.88 298.5,427.34 305.5,432.24 312.5,441.40 319.5,444.35 327.5,449.32 334.5,442.41 341.5,438.50 348.5,436.11 355.5,442.47 362.5,443.95 369.5,447.48 376.5,450.68 383.5,456.52 390.5,461.41 398.5,465.22 405.5,470.04 412.5,473.98 419.5,474.98 426.5,478.82 433.5,481.90 440.5,485.08 447.5,487.12 454.5,488.84 461.5,490.28 469.5,490.76 476.5,489.14 483.5,483.10 490.5,479.41 497.5,477.91 504.5,478.58 511.5,479.62 518.5,479.01 525.5,478.75 533.5,480.97 540.5,482.75 547.5,484.90 554.5,491.31 561.5,497.14 568.5,502.00 575.5,510.93 582.5,514.82 589.5,517.96 596.5,517.83 604.5,516.02 611.5,515.87 618.5,511.70 625.5,505.62 632.5,500.31 639.5,496.57 646.5,493.21 653.5,487.37 660.5,487.34 667.5,485.96 675.5,487.96 682.5,499.68 689.5,510.45 696.5,511.07 703.5,509.78 710.5,510.84 717.5,514.18 724.5,518.37 731.5,522.45 738.5,524.34 746.5,523.73 753.5,522.96 760.5,524.28 767.5,526.19 774.5,526.32 781.5,524.63 788.5,522.69 795.5,517.05 802.5,513.15 809.5,512.57 817.5,513.27 824.5,515.56 831.5,516.41 838.5,516.27 845.5,515.35 852.5,520.19 859.5,529.63 866.5,534.00 873.5,539.07 880.5,540.36 888.5,541.47 895.5,538.44 902.5,535.90 909.5,536.28 916.5,536.13 923.5,539.11 930.5,543.19 937.5,544.84 944.5,546.91 951.5,549.30 959.5,548.82 966.5,549.62 973.5,553.35 980.5,556.81 987.5,558.70 994.5,559.04 1001.5,555.66 1008.5,552.34 1015.5,547.79 1023.5,543.80 1030.5,539.85 1037.5,537.16 1044.5,534.45 1051.5,535.59 1058.5,532.37 1065.5,525.75 1072.5,521.28 1079.5,519.58 1086.5,517.69 1094.5,515.69 1101.5,512.58 1108.5,506.44 1115.5,501.37 1122.5,498.98 1129.5,499.90 1136.5,500.15 1143.5,501.20 1150.5,503.90 1157.5,506.15" fill="none" stroke="#2962ff" stroke-width="1" stroke-linejoin="round" stroke-linecap="round"/>
<polyline points="7.4,497.68 14.5,496.69 21.5,495.04 28.5,492.38 35.5,489.23 43.5,486.00 50.5,482.83 57.5,479.72 64.5,476.38 71.5,472.27 78.5,467.52 85.5,462.44 92.5,457.34 99.5,451.96 106.5,446.78 114.5,442.16 121.5,438.70 128.5,435.99 135.5,433.97 142.5,432.58 149.5,431.31 156.5,430.61 163.5,430.47 170.5,430.78 177.5,431.97 185.5,434.55 192.5,438.36 199.5,442.49 206.5,445.90 213.5,449.22 220.5,452.12 227.5,453.84 234.5,454.50 241.5,453.59 248.5,451.89 256.5,450.00 263.5,446.81 270.5,442.49 277.5,438.57 284.5,435.64 291.5,433.69 298.5,432.42 305.5,432.38 312.5,434.19 319.5,436.22 327.5,438.84 334.5,439.55 341.5,439.34 348.5,438.70 355.5,439.45 362.5,440.35 369.5,441.78 376.5,443.56 383.5,446.15 390.5,449.20 398.5,452.40 405.5,455.93 412.5,459.54 419.5,462.63 426.5,465.87 433.5,469.07 440.5,472.28 447.5,475.24 454.5,477.96 461.5,480.43 469.5,482.49 476.5,483.82 483.5,483.68 490.5,482.82 497.5,481.84 504.5,481.19 511.5,480.88 518.5,480.50 525.5,480.15 533.5,480.32 540.5,480.80 547.5,481.62 554.5,483.56 561.5,486.27 568.5,489.42 575.5,493.72 582.5,497.94 589.5,501.95 596.5,505.12 604.5,507.30 611.5,509.02 618.5,509.55 625.5,508.76 632.5,507.07 639.5,504.97 646.5,502.62 653.5,499.57 660.5,497.13 667.5,494.89 675.5,493.51 682.5,494.74 689.5,497.88 696.5,500.52 703.5,502.37 710.5,504.07 717.5,506.09 724.5,508.55 731.5,511.33 738.5,513.93 746.5,515.89 753.5,517.30 760.5,518.70 767.5,520.20 774.5,521.42 781.5,522.06 788.5,522.19 795.5,521.16 802.5,519.56 809.5,518.16 817.5,517.18 824.5,516.86 831.5,516.77 838.5,516.67 845.5,516.40 852.5,517.16 859.5,519.65 866.5,522.52 873.5,525.83 880.5,528.74 888.5,531.28 895.5,532.71 902.5,533.35 909.5,533.94 916.5,534.37 923.5,535.32 930.5,536.90 937.5,538.48 944.5,540.17 951.5,542.00 959.5,543.36 966.5,544.61 973.5,546.36 980.5,548.45 987.5,550.50 994.5,552.21 1001.5,552.90 1008.5,552.79 1015.5,551.79 1023.5,550.19 1030.5,548.12 1037.5,545.93 1044.5,543.63 1051.5,542.02 1058.5,540.09 1065.5,537.23 1072.5,534.04 1079.5,531.14 1086.5,528.45 1094.5,525.90 1101.5,523.24 1108.5,519.88 1115.5,516.18 1122.5,512.74 1129.5,510.17 1136.5,508.17 1143.5,506.77 1150.5,506.20 1157.5,506.19" fill="none" stroke="#ff6d00" stroke-width="1" stroke-linejoin="round" stroke-linecap="round"/>
</g>
<path d="M7.4,676.5 L7.4,668.55 L14.5,658.13 L21.5,640.90 L28.5,626.54 L35.5,625.99 L43.5,628.93 L50.5,627.05 L57.5,623.34 L64.5,614.68 L71.5,603.27 L78.5,599.07 L85.5,596.63 L92.5,595.32 L99.5,590.42 L106.5,590.21 L114.5,593.35 L121.5,615.56 L128.5,611.53 L135.5,610.74 L142.5,609.92 L149.5,603.49 L156.5,618.07 L163.5,618.07 L170.5,617.07 L177.5,640.12 L185.5,667.65 L192.5,678.29 L199.5,667.65 L206.5,649.13 L213.5,661.35 L220.5,655.17 L227.5,639.98 L234.5,634.69 L241.5,622.82 L248.5,623.74 L256.5,627.57 L263.5,612.75 L270.5,607.98 L277.5,628.43 L284.5,638.71 L291.5,640.17 L298.5,637.81 L305.5,652.78 L312.5,672.19 L319.5,656.89 L327.5,664.88 L334.5,637.98 L341.5,641.26 L348.5,641.26 L355.5,667.41 L362.5,657.53 L369.5,663.06 L376.5,662.68 L383.5,671.73 L390.5,671.29 L398.5,669.90 L405.5,675.18 L412.5,674.65 L419.5,666.25 L426.5,677.11 L433.5,676.55 L440.5,678.92 L447.5,676.37 L454.5,676.37 L461.5,676.37 L469.5,672.60 L476.5,662.59 L483.5,643.78 L490.5,648.97 L497.5,655.82 L504.5,664.83 L511.5,666.46 L518.5,659.04 L525.5,659.04 L533.5,672.36 L540.5,671.56 L547.5,675.16 L554.5,698.42 L561.5,701.54 L568.5,702.83 L575.5,721.60 L582.5,703.15 L589.5,704.23 L596.5,690.59 L604.5,682.79 L611.5,689.43 L618.5,670.74 L625.5,660.01 L632.5,658.31 L639.5,660.75 L646.5,658.83 L653.5,645.93 L660.5,669.64 L667.5,663.67 L675.5,677.26 L682.5,709.28 L689.5,713.10 L696.5,684.06 L703.5,678.93 L710.5,685.45 L717.5,692.83 L724.5,697.52 L731.5,700.25 L738.5,696.04 L746.5,688.91 L753.5,688.91 L760.5,696.23 L767.5,699.98 L774.5,695.03 L781.5,688.07 L788.5,686.66 L795.5,669.82 L802.5,673.12 L809.5,684.38 L817.5,689.60 L824.5,696.78 L831.5,692.94 L838.5,689.81 L845.5,686.59 L852.5,708.43 L859.5,723.96 L866.5,710.46 L873.5,715.74 L880.5,704.97 L888.5,706.67 L895.5,690.92 L902.5,691.93 L909.5,701.22 L916.5,701.22 L923.5,712.08 L930.5,718.02 L937.5,712.35 L944.5,716.13 L951.5,719.82 L959.5,709.42 L966.5,714.84 L973.5,724.74 L980.5,727.59 L987.5,726.64 L994.5,723.65 L1001.5,705.01 L1008.5,705.01 L1015.5,696.89 L1023.5,697.53 L1030.5,695.59 L1037.5,699.82 L1044.5,698.73 L1051.5,714.92 L1058.5,690.65 L1065.5,671.85 L1072.5,676.88 L1079.5,686.40 L1086.5,684.82 L1094.5,683.17 L1101.5,675.75 L1108.5,658.72 L1115.5,658.07 L1122.5,667.81 L1129.5,682.59 L1136.5,680.18 L1143.5,684.76 L1150.5,694.10 L1157.5,695.13 L1157.5,676.5 Z" fill="url(#gob)" clip-path="url(#cOB)"/>
<path d="M7.4,676.5 L7.4,668.55 L14.5,658.13 L21.5,640.90 L28.5,626.54 L35.5,625.99 L43.5,628.93 L50.5,627.05 L57.5,623.34 L64.5,614.68 L71.5,603.27 L78.5,599.07 L85.5,596.63 L92.5,595.32 L99.5,590.42 L106.5,590.21 L114.5,593.35 L121.5,615.56 L128.5,611.53 L135.5,610.74 L142.5,609.92 L149.5,603.49 L156.5,618.07 L163.5,618.07 L170.5,617.07 L177.5,640.12 L185.5,667.65 L192.5,678.29 L199.5,667.65 L206.5,649.13 L213.5,661.35 L220.5,655.17 L227.5,639.98 L234.5,634.69 L241.5,622.82 L248.5,623.74 L256.5,627.57 L263.5,612.75 L270.5,607.98 L277.5,628.43 L284.5,638.71 L291.5,640.17 L298.5,637.81 L305.5,652.78 L312.5,672.19 L319.5,656.89 L327.5,664.88 L334.5,637.98 L341.5,641.26 L348.5,641.26 L355.5,667.41 L362.5,657.53 L369.5,663.06 L376.5,662.68 L383.5,671.73 L390.5,671.29 L398.5,669.90 L405.5,675.18 L412.5,674.65 L419.5,666.25 L426.5,677.11 L433.5,676.55 L440.5,678.92 L447.5,676.37 L454.5,676.37 L461.5,676.37 L469.5,672.60 L476.5,662.59 L483.5,643.78 L490.5,648.97 L497.5,655.82 L504.5,664.83 L511.5,666.46 L518.5,659.04 L525.5,659.04 L533.5,672.36 L540.5,671.56 L547.5,675.16 L554.5,698.42 L561.5,701.54 L568.5,702.83 L575.5,721.60 L582.5,703.15 L589.5,704.23 L596.5,690.59 L604.5,682.79 L611.5,689.43 L618.5,670.74 L625.5,660.01 L632.5,658.31 L639.5,660.75 L646.5,658.83 L653.5,645.93 L660.5,669.64 L667.5,663.67 L675.5,677.26 L682.5,709.28 L689.5,713.10 L696.5,684.06 L703.5,678.93 L710.5,685.45 L717.5,692.83 L724.5,697.52 L731.5,700.25 L738.5,696.04 L746.5,688.91 L753.5,688.91 L760.5,696.23 L767.5,699.98 L774.5,695.03 L781.5,688.07 L788.5,686.66 L795.5,669.82 L802.5,673.12 L809.5,684.38 L817.5,689.60 L824.5,696.78 L831.5,692.94 L838.5,689.81 L845.5,686.59 L852.5,708.43 L859.5,723.96 L866.5,710.46 L873.5,715.74 L880.5,704.97 L888.5,706.67 L895.5,690.92 L902.5,691.93 L909.5,701.22 L916.5,701.22 L923.5,712.08 L930.5,718.02 L937.5,712.35 L944.5,716.13 L951.5,719.82 L959.5,709.42 L966.5,714.84 L973.5,724.74 L980.5,727.59 L987.5,726.64 L994.5,723.65 L1001.5,705.01 L1008.5,705.01 L1015.5,696.89 L1023.5,697.53 L1030.5,695.59 L1037.5,699.82 L1044.5,698.73 L1051.5,714.92 L1058.5,690.65 L1065.5,671.85 L1072.5,676.88 L1079.5,686.40 L1086.5,684.82 L1094.5,683.17 L1101.5,675.75 L1108.5,658.72 L1115.5,658.07 L1122.5,667.81 L1129.5,682.59 L1136.5,680.18 L1143.5,684.76 L1150.5,694.10 L1157.5,695.13 L1157.5,676.5 Z" fill="url(#gos)" clip-path="url(#cOS)"/>
<line x1="10" y1="630.5" x2="1232" y2="630.5" stroke="#787b86" stroke-width="1" stroke-dasharray="5 6" shape-rendering="crispEdges"/>
<line x1="10" y1="676.5" x2="1232" y2="676.5" stroke="#787b86" stroke-opacity="0.5" stroke-width="1" stroke-dasharray="5 6" shape-rendering="crispEdges"/>
<line x1="10" y1="722.5" x2="1232" y2="722.5" stroke="#787b86" stroke-width="1" stroke-dasharray="5 6" shape-rendering="crispEdges"/>
<g clip-path="url(#cPl)">
<polyline points="7.4,673.80 14.5,672.29 21.5,669.28 28.5,665.21 35.5,661.20 43.5,657.52 50.5,654.43 57.5,650.89 64.5,645.84 71.5,641.66 78.5,637.36 85.5,631.98 92.5,626.56 99.5,621.35 106.5,615.75 114.5,611.12 121.5,609.31 128.5,608.24 135.5,607.15 142.5,605.79 149.5,604.11 156.5,603.73 163.5,603.98 170.5,604.96 177.5,607.89 185.5,612.97 192.5,618.89 199.5,624.41 206.5,628.62 213.5,633.47 220.5,636.30 227.5,638.34 234.5,640.05 241.5,640.97 248.5,642.41 256.5,643.09 263.5,642.71 270.5,642.06 277.5,641.23 284.5,639.16 291.5,636.44 298.5,634.31 305.5,634.57 312.5,635.34 319.5,635.46 327.5,637.24 334.5,637.48 341.5,638.80 348.5,640.05 355.5,642.89 362.5,646.09 369.5,650.02 376.5,652.47 383.5,654.83 390.5,657.05 398.5,659.34 405.5,660.94 412.5,661.12 419.5,661.79 426.5,662.66 433.5,665.42 440.5,668.11 447.5,670.62 454.5,671.26 461.5,672.60 469.5,673.28 476.5,673.28 483.5,671.28 490.5,669.69 497.5,668.68 504.5,667.94 511.5,667.36 518.5,666.84 525.5,665.55 533.5,665.25 540.5,664.73 547.5,664.64 554.5,666.21 561.5,668.01 568.5,670.17 575.5,674.39 582.5,678.63 589.5,682.57 596.5,685.06 604.5,686.34 611.5,687.98 618.5,688.82 625.5,688.89 632.5,687.88 639.5,687.11 646.5,685.94 653.5,682.19 660.5,679.92 667.5,677.12 675.5,673.95 682.5,674.39 689.5,675.02 696.5,674.56 703.5,674.28 710.5,674.00 717.5,675.57 724.5,678.25 731.5,681.25 738.5,683.77 746.5,685.92 753.5,688.99 760.5,690.89 767.5,693.48 774.5,694.75 781.5,693.24 788.5,691.35 795.5,690.33 802.5,689.92 809.5,689.84 817.5,689.61 824.5,689.56 831.5,689.03 838.5,688.59 845.5,688.42 852.5,689.82 859.5,691.80 866.5,692.55 873.5,694.02 880.5,695.23 888.5,696.66 895.5,698.17 902.5,699.51 909.5,700.71 916.5,701.54 923.5,702.64 930.5,704.43 937.5,706.04 944.5,708.15 951.5,708.96 959.5,707.92 966.5,708.24 973.5,708.88 980.5,710.50 987.5,711.92 994.5,714.26 1001.5,715.20 1008.5,715.47 1015.5,715.16 1023.5,714.12 1030.5,712.52 1037.5,711.62 1044.5,710.38 1051.5,710.03 1058.5,708.69 1065.5,705.62 1072.5,702.20 1079.5,699.25 1086.5,696.27 1094.5,693.38 1101.5,691.29 1108.5,687.98 1115.5,685.21 1122.5,683.08 1129.5,682.15 1136.5,680.75 1143.5,679.75 1150.5,678.27 1157.5,678.59" fill="none" stroke="#fdd835" stroke-width="1" stroke-linejoin="round" stroke-linecap="round"/>
<polyline points="7.4,668.55 14.5,658.13 21.5,640.90 28.5,626.54 35.5,625.99 43.5,628.93 50.5,627.05 57.5,623.34 64.5,614.68 71.5,603.27 78.5,599.07 85.5,596.63 92.5,595.32 99.5,590.42 106.5,590.21 114.5,593.35 121.5,615.56 128.5,611.53 135.5,610.74 142.5,609.92 149.5,603.49 156.5,618.07 163.5,618.07 170.5,617.07 177.5,640.12 185.5,667.65 192.5,678.29 199.5,667.65 206.5,649.13 213.5,661.35 220.5,655.17 227.5,639.98 234.5,634.69 241.5,622.82 248.5,623.74 256.5,627.57 263.5,612.75 270.5,607.98 277.5,628.43 284.5,638.71 291.5,640.17 298.5,637.81 305.5,652.78 312.5,672.19 319.5,656.89 327.5,664.88 334.5,637.98 341.5,641.26 348.5,641.26 355.5,667.41 362.5,657.53 369.5,663.06 376.5,662.68 383.5,671.73 390.5,671.29 398.5,669.90 405.5,675.18 412.5,674.65 419.5,666.25 426.5,677.11 433.5,676.55 440.5,678.92 447.5,676.37 454.5,676.37 461.5,676.37 469.5,672.60 476.5,662.59 483.5,643.78 490.5,648.97 497.5,655.82 504.5,664.83 511.5,666.46 518.5,659.04 525.5,659.04 533.5,672.36 540.5,671.56 547.5,675.16 554.5,698.42 561.5,701.54 568.5,702.83 575.5,721.60 582.5,703.15 589.5,704.23 596.5,690.59 604.5,682.79 611.5,689.43 618.5,670.74 625.5,660.01 632.5,658.31 639.5,660.75 646.5,658.83 653.5,645.93 660.5,669.64 667.5,663.67 675.5,677.26 682.5,709.28 689.5,713.10 696.5,684.06 703.5,678.93 710.5,685.45 717.5,692.83 724.5,697.52 731.5,700.25 738.5,696.04 746.5,688.91 753.5,688.91 760.5,696.23 767.5,699.98 774.5,695.03 781.5,688.07 788.5,686.66 795.5,669.82 802.5,673.12 809.5,684.38 817.5,689.60 824.5,696.78 831.5,692.94 838.5,689.81 845.5,686.59 852.5,708.43 859.5,723.96 866.5,710.46 873.5,715.74 880.5,704.97 888.5,706.67 895.5,690.92 902.5,691.93 909.5,701.22 916.5,701.22 923.5,712.08 930.5,718.02 937.5,712.35 944.5,716.13 951.5,719.82 959.5,709.42 966.5,714.84 973.5,724.74 980.5,727.59 987.5,726.64 994.5,723.65 1001.5,705.01 1008.5,705.01 1015.5,696.89 1023.5,697.53 1030.5,695.59 1037.5,699.82 1044.5,698.73 1051.5,714.92 1058.5,690.65 1065.5,671.85 1072.5,676.88 1079.5,686.40 1086.5,684.82 1094.5,683.17 1101.5,675.75 1108.5,658.72 1115.5,658.07 1122.5,667.81 1129.5,682.59 1136.5,680.18 1143.5,684.76 1150.5,694.10 1157.5,695.13" fill="none" stroke="#7e57c2" stroke-width="1" stroke-linejoin="round" stroke-linecap="round"/>
</g>
<g shape-rendering="crispEdges">
<rect x="10" y="405" width="1284" height="1" fill="#e0e3eb"/>
<rect x="10" y="573" width="1284" height="1" fill="#e0e3eb"/>
</g>
<rect x="10.15" y="27.1" width="1283.6499999999999" height="741.65" fill="none" stroke="#f2f2f4" stroke-width="1.6"/>
<g clip-path="url(#cAx1)">
<text x="1240.8" y="380" font-size="12.5" fill="#131722" textLength="38.7" lengthAdjust="spacingAndGlyphs" stroke="#131722" stroke-width="0.3">2,500.0</text>
<text x="1240.8" y="348" font-size="12.5" fill="#131722" textLength="38.7" lengthAdjust="spacingAndGlyphs" stroke="#131722" stroke-width="0.3">2,750.0</text>
<text x="1240.8" y="317" font-size="12.5" fill="#131722" textLength="38.7" lengthAdjust="spacingAndGlyphs" stroke="#131722" stroke-width="0.3">3,000.0</text>
<text x="1240.8" y="285" font-size="12.5" fill="#131722" textLength="38.7" lengthAdjust="spacingAndGlyphs" stroke="#131722" stroke-width="0.3">3,250.0</text>
<text x="1240.8" y="253" font-size="12.5" fill="#131722" textLength="38.7" lengthAdjust="spacingAndGlyphs" stroke="#131722" stroke-width="0.3">3,500.0</text>
<text x="1240.8" y="221" font-size="12.5" fill="#131722" textLength="38.7" lengthAdjust="spacingAndGlyphs" stroke="#131722" stroke-width="0.3">3,750.0</text>
<text x="1240.8" y="190" font-size="12.5" fill="#131722" textLength="38.7" lengthAdjust="spacingAndGlyphs" stroke="#131722" stroke-width="0.3">4,000.0</text>
<text x="1240.8" y="158" font-size="12.5" fill="#131722" textLength="38.7" lengthAdjust="spacingAndGlyphs" stroke="#131722" stroke-width="0.3">4,250.0</text>
<text x="1240.8" y="126" font-size="12.5" fill="#131722" textLength="38.7" lengthAdjust="spacingAndGlyphs" stroke="#131722" stroke-width="0.3">4,500.0</text>
<text x="1240.8" y="94" font-size="12.5" fill="#131722" textLength="38.7" lengthAdjust="spacingAndGlyphs" stroke="#131722" stroke-width="0.3">4,750.0</text>
<text x="1240.8" y="63" font-size="12.5" fill="#131722" textLength="38.7" lengthAdjust="spacingAndGlyphs" stroke="#131722" stroke-width="0.3">5,000.0</text>
<text x="1240.8" y="31" font-size="12.5" fill="#131722" textLength="38.7" lengthAdjust="spacingAndGlyphs" stroke="#131722" stroke-width="0.3">5,250.0</text>
</g>
<path d="M1233,44 H1282 a2,2 0 0 1 2,2 V59 a2,2 0 0 1 -2,2 H1233 Z" fill="#2962ff"/>
<text x="1240.8" y="56" font-size="12.5" fill="#fff" textLength="38.7" lengthAdjust="spacingAndGlyphs" stroke="#fff" stroke-width="0.3">5,057.0</text>
<path d="M1233,219 H1282 a2,2 0 0 1 2,2 V234 a2,2 0 0 1 -2,2 H1233 Z" fill="#2962ff"/>
<text x="1240.8" y="231" font-size="12.5" fill="#fff" textLength="38.7" lengthAdjust="spacingAndGlyphs" stroke="#fff" stroke-width="0.3">3,680.9</text>
<path d="M1233,352 H1282 a2,2 0 0 1 2,2 V367 a2,2 0 0 1 -2,2 H1233 Z" fill="#2962ff"/>
<text x="1240.8" y="364" font-size="12.5" fill="#fff" textLength="38.7" lengthAdjust="spacingAndGlyphs" stroke="#fff" stroke-width="0.3">2,634.3</text>
<path d="M1184,311 H1232 V328 H1184 a2,2 0 0 1 -2,-2 V313 a2,2 0 0 1 2,-2 Z" fill="#ef5350"/>
<text x="1186.1" y="324" font-size="12.5" fill="#fff" textLength="42.1" lengthAdjust="spacingAndGlyphs" stroke="#fff" stroke-width="0.3">ETHUSD</text>
<path d="M1233,311 H1288 a2,2 0 0 1 2,2 V340 a2,2 0 0 1 -2,2 H1233 Z" fill="#ef5350"/>
<text x="1240.8" y="322.5" font-size="12.5" fill="#fff" textLength="38.5" lengthAdjust="spacingAndGlyphs" stroke="#fff" stroke-width="0.3">2,951.0</text>
<text x="1241.1" y="336.7" font-size="12.5" fill="#fff" textLength="44.2" lengthAdjust="spacingAndGlyphs" stroke="#fff" stroke-width="0.3" fill-opacity="0.8">12:10:24</text>
<text x="1240.9" y="455" font-size="12.5" fill="#131722" textLength="28.3" lengthAdjust="spacingAndGlyphs" stroke="#131722" stroke-width="0.3">200.0</text>
<text x="1240.9" y="548" font-size="12.5" fill="#131722" textLength="34.5" lengthAdjust="spacingAndGlyphs" stroke="#131722" stroke-width="0.3">−200.0</text>
<path d="M1233,489 H1259.7 a2,2 0 0 1 2,2 V504 a2,2 0 0 1 -2,2 H1233 Z" fill="#b2dfdb"/>
<text x="1240.8" y="501.5" font-size="12.5" fill="#131722" textLength="16.6" lengthAdjust="spacingAndGlyphs" stroke="#131722" stroke-width="0.3">0.2</text>
<path d="M1233,506 H1272 a2,2 0 0 1 2,2 V521 a2,2 0 0 1 -2,2 H1233 Z" fill="#2962ff"/>
<text x="1240.8" y="518" font-size="12.5" fill="#fff" textLength="28.4" lengthAdjust="spacingAndGlyphs" stroke="#fff" stroke-width="0.3">−36.7</text>
<path d="M1233,523 H1272 a2,2 0 0 1 2,2 V538 a2,2 0 0 1 -2,2 H1233 Z" fill="#ff6d00"/>
<text x="1240.8" y="535" font-size="12.5" fill="#fff" textLength="28.4" lengthAdjust="spacingAndGlyphs" stroke="#fff" stroke-width="0.3">−36.9</text>
<text x="1240.8" y="612" font-size="12.5" fill="#131722" textLength="28.6" lengthAdjust="spacingAndGlyphs" stroke="#131722" stroke-width="0.3">80.00</text>
<text x="1240.8" y="658" font-size="12.5" fill="#131722" textLength="28.6" lengthAdjust="spacingAndGlyphs" stroke="#131722" stroke-width="0.3">60.00</text>
<path d="M1233,669 H1272 a2,2 0 0 1 2,2 V684 a2,2 0 0 1 -2,2 H1233 Z" fill="#fdd835"/>
<text x="1240.8" y="681.9" font-size="12.5" fill="#0c0e15" textLength="28.7" lengthAdjust="spacingAndGlyphs" stroke="#0c0e15" stroke-width="0.3">49.10</text>
<path d="M1233,686 H1272 a2,2 0 0 1 2,2 V701 a2,2 0 0 1 -2,2 H1233 Z" fill="#7e57c2"/>
<text x="1240.8" y="698.9" font-size="12.5" fill="#fff" textLength="28.7" lengthAdjust="spacingAndGlyphs" stroke="#fff" stroke-width="0.3">42.00</text>
<text x="174.0" y="758.8" font-size="12.5" fill="#131722" font-weight="bold" textLength="21.8" lengthAdjust="spacingAndGlyphs">Aug</text>
<text x="394.5" y="758.8" font-size="12.5" fill="#131722" font-weight="bold" textLength="20.8" lengthAdjust="spacingAndGlyphs">Sep</text>
<text x="607.85" y="758.8" font-size="12.5" fill="#131722" font-weight="bold" textLength="20.1" lengthAdjust="spacingAndGlyphs">Oct</text>
<text x="826.85" y="758.8" font-size="12.5" fill="#131722" font-weight="bold" textLength="22.1" lengthAdjust="spacingAndGlyphs">Nov</text>
<text x="1039.75" y="758.8" font-size="12.5" fill="#131722" font-weight="bold" textLength="22.3" lengthAdjust="spacingAndGlyphs">Dec</text>
<rect x="64.9" y="40.9" width="2.2" height="2.1" fill="#131722"/><rect x="89.9" y="40.9" width="2.2" height="2.1" fill="#131722"/>
<text x="18.1" y="46" font-size="12.5" fill="#131722" textLength="41.7" lengthAdjust="spacingAndGlyphs" stroke="#131722" stroke-width="0.3">ETHUSD</text>
<text x="72.4" y="46" font-size="12.5" fill="#131722" textLength="12.7" lengthAdjust="spacingAndGlyphs" stroke="#131722" stroke-width="0.3">1D</text>
<text x="96.9" y="46" font-size="12.5" fill="#131722" textLength="46.7" lengthAdjust="spacingAndGlyphs" stroke="#131722" stroke-width="0.3">Bitstamp</text>
<text x="152.1" y="46" font-size="12.5" fill="#131722" textLength="7.8" lengthAdjust="spacingAndGlyphs" stroke="#131722" stroke-width="0.3">O</text>
<text x="207.4" y="46" font-size="12.5" fill="#131722" textLength="6.7" lengthAdjust="spacingAndGlyphs" stroke="#131722" stroke-width="0.3">H</text>
<text x="261.2" y="46" font-size="12.5" fill="#131722" textLength="5.4" lengthAdjust="spacingAndGlyphs" stroke="#131722" stroke-width="0.3">L</text>
<text x="313.0" y="46" font-size="12.5" fill="#131722" textLength="6.3" lengthAdjust="spacingAndGlyphs" stroke="#131722" stroke-width="0.3">C</text>
<text x="449.0" y="46" font-size="12.5" fill="#131722" textLength="15.7" lengthAdjust="spacingAndGlyphs" stroke="#131722" stroke-width="0.3">Vol</text>
<text x="161.1" y="46" font-size="12.5" fill="#ef5350" textLength="38.1" lengthAdjust="spacingAndGlyphs" stroke="#ef5350" stroke-width="0.3">2,964.0</text>
<text x="214.9" y="46" font-size="12.5" fill="#ef5350" textLength="38.3" lengthAdjust="spacingAndGlyphs" stroke="#ef5350" stroke-width="0.3">2,977.6</text>
<text x="267.1" y="46" font-size="12.5" fill="#ef5350" textLength="37.5" lengthAdjust="spacingAndGlyphs" stroke="#ef5350" stroke-width="0.3">2,874.7</text>
<text x="319.4" y="46" font-size="12.5" fill="#ef5350" textLength="39.1" lengthAdjust="spacingAndGlyphs" stroke="#ef5350" stroke-width="0.3">2,951.0</text>
<text x="365.8" y="46" font-size="12.5" fill="#ef5350" textLength="75.6" lengthAdjust="spacingAndGlyphs" stroke="#ef5350" stroke-width="0.3">−13.0 (−0.44%)</text>
<text x="464.9" y="46" font-size="12.5" fill="#ef5350" textLength="25.4" lengthAdjust="spacingAndGlyphs" stroke="#ef5350" stroke-width="0.3">4.6 K</text>
<text x="17.6" y="425" font-size="12.5" fill="#131722" textLength="31.55" lengthAdjust="spacingAndGlyphs" stroke="#131722" stroke-width="0.3">MACD</text>
<text x="53.35" y="425" font-size="12.5" fill="#131722" textLength="19.55" lengthAdjust="spacingAndGlyphs" stroke="#131722" stroke-width="0.3">(12,</text>
<text x="77.1" y="425" font-size="12.5" fill="#131722" textLength="15.8" lengthAdjust="spacingAndGlyphs" stroke="#131722" stroke-width="0.3">26,</text>
<text x="97.1" y="425" font-size="12.5" fill="#131722" textLength="33.3" lengthAdjust="spacingAndGlyphs" stroke="#131722" stroke-width="0.3">close)</text>
<text x="137.85" y="425" font-size="12.5" fill="#b2dfdb" textLength="16.8" lengthAdjust="spacingAndGlyphs" stroke="#b2dfdb" stroke-width="0.3">0.2</text>
<text x="162.1" y="425" font-size="12.5" fill="#2962ff" textLength="28.3" lengthAdjust="spacingAndGlyphs" stroke="#2962ff" stroke-width="0.3">−36.7</text>
<text x="197.85" y="425" font-size="12.5" fill="#ff6d00" textLength="28.8" lengthAdjust="spacingAndGlyphs" stroke="#ff6d00" stroke-width="0.3">−36.9</text>
<text x="17.6" y="593" font-size="12.5" fill="#131722" textLength="16.55" lengthAdjust="spacingAndGlyphs" stroke="#131722" stroke-width="0.3">RSI</text>
<text x="38.35" y="593" font-size="12.5" fill="#131722" textLength="19.55" lengthAdjust="spacingAndGlyphs" stroke="#131722" stroke-width="0.3">(14,</text>
<text x="61.6" y="593" font-size="12.5" fill="#131722" textLength="33.8" lengthAdjust="spacingAndGlyphs" stroke="#131722" stroke-width="0.3">close)</text>
<text x="103.35" y="593" font-size="12.5" fill="#7e57c2" textLength="27.8" lengthAdjust="spacingAndGlyphs" stroke="#7e57c2" stroke-width="0.3">42.00</text>
<text x="138.6" y="593" font-size="12.5" fill="#fdd835" textLength="28.8" lengthAdjust="spacingAndGlyphs" stroke="#fdd835" stroke-width="0.3">49.10</text>
<g transform="translate(1157.6,367.4)">
<circle r="10.6" fill="#fff"/>
<circle cx="6.5" cy="-6.8" r="4" fill="#fff"/>
<circle cx="-10.9" cy="3.6" r="4.6" fill="#fff"/>
<circle r="9.5" fill="none" stroke="#9c27b0" stroke-width="1.6"/>
<circle cx="6.5" cy="-6.8" r="4" fill="#fff"/>
<path d="M-10.7,-1.2 Q-9.8,2.7 -5.9,3.6 Q-9.8,4.5 -10.7,8.4 Q-11.6,4.5 -15.5,3.6 Q-11.6,2.7 -10.7,-1.2 Z" fill="#7c4dff" stroke="#fff" stroke-width="1.2" paint-order="stroke"/>
<polyline points="2.3,-4.8 -3.9,0.3 2.9,-0.4 -3.3,5.1" fill="none" stroke="#9c27b0" stroke-width="1.5" stroke-linejoin="bevel"/>
<circle cx="6.5" cy="-6.8" r="2.6" fill="#f23645"/>
</g>
<defs><clipPath id="fcl"><circle r="7.6"/></clipPath></defs>
<g transform="translate(1178.82,391.8)"><circle r="9.9" fill="#fff" stroke="#f23645" stroke-width="1.3"/>
<g clip-path="url(#fcl)">
<rect x="-8" y="-8" width="16" height="16" fill="#fff"/>
<rect x="-8" y="-8" width="16" height="2.4" fill="#ef5350"/>
<rect x="-8" y="-2.3" width="16" height="4.2" fill="#ef5350"/>
<rect x="-8" y="4.5" width="16" height="3.5" fill="#ef5350"/>
<rect x="-8" y="-8" width="10.2" height="9.9" fill="#1e88e5"/>
<rect x="-5.4" y="-5.7" width="1" height="1" fill="#fff" fill-opacity="0.85"/>
<rect x="-3.1" y="-5.7" width="1" height="1" fill="#fff" fill-opacity="0.85"/>
<rect x="-0.8" y="-5.7" width="1" height="1" fill="#fff" fill-opacity="0.85"/>
<rect x="-5.4" y="-3.1" width="1" height="1" fill="#fff" fill-opacity="0.85"/>
<rect x="-3.1" y="-3.1" width="1" height="1" fill="#fff" fill-opacity="0.85"/>
<rect x="-0.8" y="-3.1" width="1" height="1" fill="#fff" fill-opacity="0.85"/>
<rect x="-5.4" y="-0.5" width="1" height="1" fill="#fff" fill-opacity="0.85"/>
<rect x="-3.1" y="-0.5" width="1" height="1" fill="#fff" fill-opacity="0.85"/>
<rect x="-0.8" y="-0.5" width="1" height="1" fill="#fff" fill-opacity="0.85"/>
</g></g>
<g transform="translate(1171.58,391.8)"><circle r="9.9" fill="#fff" stroke="#f23645" stroke-width="1.3"/>
<g clip-path="url(#fcl)">
<rect x="-8" y="-8" width="16" height="16" fill="#fff"/>
<rect x="-8" y="-8" width="16" height="2.4" fill="#ef5350"/>
<rect x="-8" y="-2.3" width="16" height="4.2" fill="#ef5350"/>
<rect x="-8" y="4.5" width="16" height="3.5" fill="#ef5350"/>
<rect x="-8" y="-8" width="10.2" height="9.9" fill="#1e88e5"/>
<rect x="-5.4" y="-5.7" width="1" height="1" fill="#fff" fill-opacity="0.85"/>
<rect x="-3.1" y="-5.7" width="1" height="1" fill="#fff" fill-opacity="0.85"/>
<rect x="-0.8" y="-5.7" width="1" height="1" fill="#fff" fill-opacity="0.85"/>
<rect x="-5.4" y="-3.1" width="1" height="1" fill="#fff" fill-opacity="0.85"/>
<rect x="-3.1" y="-3.1" width="1" height="1" fill="#fff" fill-opacity="0.85"/>
<rect x="-0.8" y="-3.1" width="1" height="1" fill="#fff" fill-opacity="0.85"/>
<rect x="-5.4" y="-0.5" width="1" height="1" fill="#fff" fill-opacity="0.85"/>
<rect x="-3.1" y="-0.5" width="1" height="1" fill="#fff" fill-opacity="0.85"/>
<rect x="-0.8" y="-0.5" width="1" height="1" fill="#fff" fill-opacity="0.85"/>
</g></g>
<g transform="translate(1164.34,391.8)"><circle r="9.9" fill="#fff" stroke="#f23645" stroke-width="1.3"/>
<g clip-path="url(#fcl)">
<rect x="-8" y="-8" width="16" height="16" fill="#fff"/>
<rect x="-8" y="-8" width="16" height="2.4" fill="#ef5350"/>
<rect x="-8" y="-2.3" width="16" height="4.2" fill="#ef5350"/>
<rect x="-8" y="4.5" width="16" height="3.5" fill="#ef5350"/>
<rect x="-8" y="-8" width="10.2" height="9.9" fill="#1e88e5"/>
<rect x="-5.4" y="-5.7" width="1" height="1" fill="#fff" fill-opacity="0.85"/>
<rect x="-3.1" y="-5.7" width="1" height="1" fill="#fff" fill-opacity="0.85"/>
<rect x="-0.8" y="-5.7" width="1" height="1" fill="#fff" fill-opacity="0.85"/>
<rect x="-5.4" y="-3.1" width="1" height="1" fill="#fff" fill-opacity="0.85"/>
<rect x="-3.1" y="-3.1" width="1" height="1" fill="#fff" fill-opacity="0.85"/>
<rect x="-0.8" y="-3.1" width="1" height="1" fill="#fff" fill-opacity="0.85"/>
<rect x="-5.4" y="-0.5" width="1" height="1" fill="#fff" fill-opacity="0.85"/>
<rect x="-3.1" y="-0.5" width="1" height="1" fill="#fff" fill-opacity="0.85"/>
<rect x="-0.8" y="-0.5" width="1" height="1" fill="#fff" fill-opacity="0.85"/>
</g></g>
<g transform="translate(1157.10,391.8)"><circle r="9.9" fill="#fff" stroke="#f23645" stroke-width="1.3"/>
<g clip-path="url(#fcl)">
<rect x="-8" y="-8" width="16" height="16" fill="#fff"/>
<rect x="-8" y="-8" width="16" height="2.4" fill="#ef5350"/>
<rect x="-8" y="-2.3" width="16" height="4.2" fill="#ef5350"/>
<rect x="-8" y="4.5" width="16" height="3.5" fill="#ef5350"/>
<rect x="-8" y="-8" width="10.2" height="9.9" fill="#1e88e5"/>
<rect x="-5.4" y="-5.7" width="1" height="1" fill="#fff" fill-opacity="0.85"/>
<rect x="-3.1" y="-5.7" width="1" height="1" fill="#fff" fill-opacity="0.85"/>
<rect x="-0.8" y="-5.7" width="1" height="1" fill="#fff" fill-opacity="0.85"/>
<rect x="-5.4" y="-3.1" width="1" height="1" fill="#fff" fill-opacity="0.85"/>
<rect x="-3.1" y="-3.1" width="1" height="1" fill="#fff" fill-opacity="0.85"/>
<rect x="-0.8" y="-3.1" width="1" height="1" fill="#fff" fill-opacity="0.85"/>
<rect x="-5.4" y="-0.5" width="1" height="1" fill="#fff" fill-opacity="0.85"/>
<rect x="-3.1" y="-0.5" width="1" height="1" fill="#fff" fill-opacity="0.85"/>
<rect x="-0.8" y="-0.5" width="1" height="1" fill="#fff" fill-opacity="0.85"/>
</g></g>
<g fill="#141414">
<path d="M12.05,791.05 H23.8 V805.8 H18.04 V796.95 H12.05 Z"/>
<circle cx="29.15" cy="793.9" r="3.05"/>
<path d="M34.0,791.05 H41.8 L36.2,805.8 H29.2 Z"/>
</g>
<text x="48.9" y="805.5" font-size="20.3" fill="#141414" font-weight="bold" textLength="121.5" lengthAdjust="spacingAndGlyphs">TradingView</text>
</svg>
</body></html>
